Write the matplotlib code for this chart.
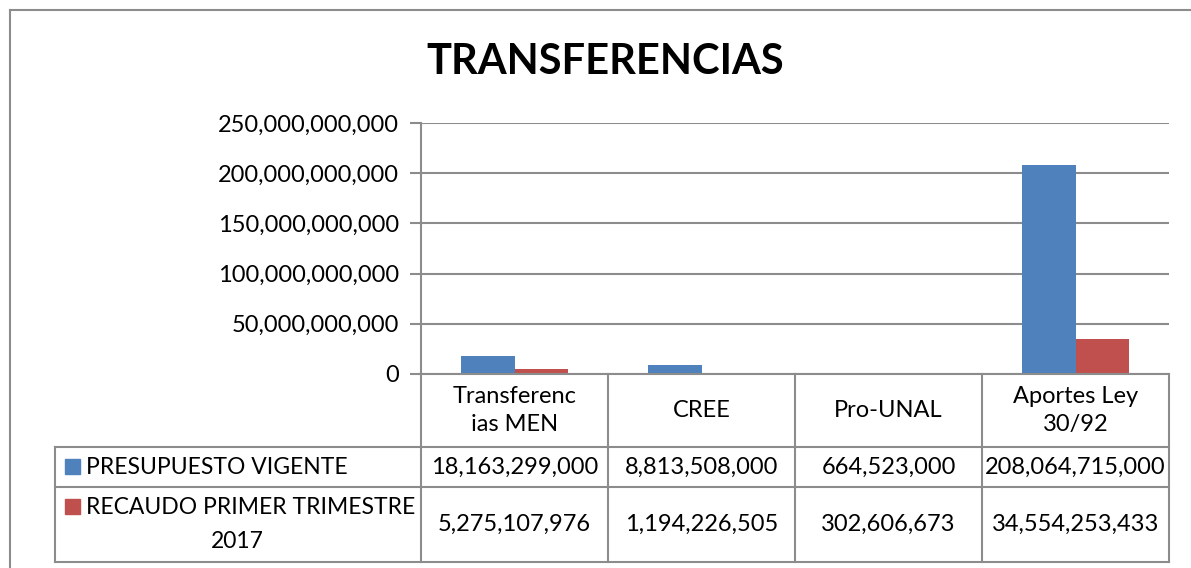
import matplotlib
matplotlib.use("Agg")
import matplotlib.pyplot as plt
from matplotlib.lines import Line2D
from matplotlib.patches import Rectangle

# data
categories = ["Transferenc\nias MEN", "CREE", "Pro-UNAL", "Aportes Ley\n30/92"]
series_names = ["PRESUPUESTO VIGENTE", "RECAUDO PRIMER TRIMESTRE\n2017"]
presupuesto = [18163299000, 8813508000, 664523000, 208064715000]
recaudo = [5275107976, 1194226505, 302606673, 34554253433]
colors = ["#4F81BD", "#C0504D"]
yticks = [0, 50e9, 100e9, 150e9, 200e9, 250e9]

plt.rcParams['font.family'] = ['Lato', 'DejaVu Sans']

W, H = 1191, 568
fig = plt.figure(figsize=(W / 100, H / 100), dpi=100)

def fx(px):
    return px / W

def fy(py):
    return 1 - py / H

grey = "#8c8c8c"
fs = 17

# outer chart border (only top/left visible)
fig.add_artist(Line2D([fx(10), fx(10)], [fy(10), fy(570)], color=grey, lw=1.5))
fig.add_artist(Line2D([fx(10), fx(1195)], [fy(10), fy(10)], color=grey, lw=1.5))

# plot area
x0, x1 = 421, 1169
ytop, ybot = 123, 374
ax = fig.add_axes([fx(x0), fy(ybot), fx(x1 - x0), (ybot - ytop) / H])
n = len(categories)
bw = 0.285
xs = range(n)
ax.bar([x - bw / 2 for x in xs], presupuesto, bw, color=colors[0], zorder=3)
ax.bar([x + bw / 2 for x in xs], recaudo, bw, color=colors[1], zorder=3)
ax.set_xlim(-0.5, n - 0.5)
ax.set_ylim(0, 250e9)
ax.set_yticks(yticks)
ax.set_yticklabels([f"{int(v):,}" for v in yticks], fontsize=fs)
ax.yaxis.grid(True, color=grey, lw=1.5, zorder=0)
ax.tick_params(axis='y', length=8, width=1.5, color=grey, pad=8)
ax.tick_params(axis='x', bottom=False, labelbottom=False)
for s in ["top", "right", "bottom"]:
    ax.spines[s].set_visible(False)
ax.spines["left"].set_color(grey)
ax.spines["left"].set_linewidth(1.5)

fig.text(fx(605), fy(62), "TRANSFERENCIAS", fontsize=30, fontweight="bold",
         ha="center", va="center")

# data table
col_edges = [x0 + i * (x1 - x0) / n for i in range(n + 1)]
row_edges = [374, 447, 487, 562]
leg_left = 55

def hline(y, xa, xb):
    fig.add_artist(Line2D([fx(xa), fx(xb)], [fy(y), fy(y)], color=grey, lw=1.5))

def vline(x, ya, yb):
    fig.add_artist(Line2D([fx(x), fx(x)], [fy(ya), fy(yb)], color=grey, lw=1.5))

hline(row_edges[0], x0, x1)
for y in row_edges[1:]:
    hline(y, leg_left, x1)
for x in col_edges:
    vline(x, row_edges[0], row_edges[-1])
vline(leg_left, row_edges[1], row_edges[-1])

for i, cat in enumerate(categories):
    cx = (col_edges[i] + col_edges[i + 1]) / 2
    fig.text(fx(cx), fy((row_edges[0] + row_edges[1]) / 2), cat, fontsize=fs,
             ha="center", va="center", linespacing=1.45)

for r, vals in enumerate([presupuesto, recaudo]):
    cy = (row_edges[r + 1] + row_edges[r + 2]) / 2
    for i, v in enumerate(vals):
        cx = (col_edges[i] + col_edges[i + 1]) / 2
        fig.text(fx(cx), fy(cy), f"{v:,}", fontsize=fs, ha="center", va="center")

# legend keys in table
fig.add_artist(Rectangle((fx(65), fy(474)), fx(15), 15 / H, color=colors[0]))
fig.text(fx(86), fy(467), series_names[0], fontsize=16.5, ha="left", va="center")
fig.add_artist(Rectangle((fx(65), fy(514)), fx(15), 15 / H, color=colors[1]))
fig.text(fx(86), fy(507), series_names[1].split("\n")[0], fontsize=16.5, ha="left", va="center")
fig.text(fx(237), fy(542), series_names[1].split("\n")[1], fontsize=16.5, ha="center", va="center")

fig.savefig("out.png", dpi=100)
